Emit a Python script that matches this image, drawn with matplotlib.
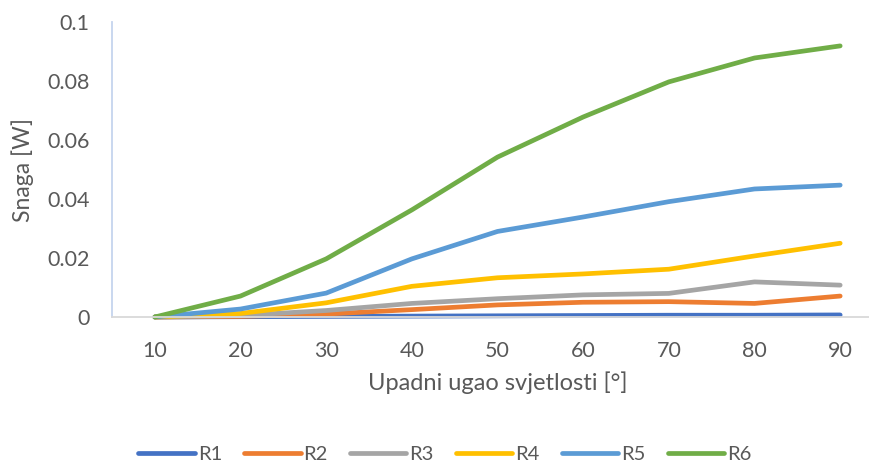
import matplotlib.pyplot as plt
import numpy as np

plt.rcParams['font.family'] = ['Lato', 'DejaVu Sans']

# angle of incident light [deg]
angles = [10, 20, 30, 40, 50, 60, 70, 80, 90]

# power [W] for each resistor
R1 = [0.0, 0.0001, 0.0002, 0.0003, 0.0004, 0.0005, 0.0006, 0.0006, 0.0007]
R2 = [0.0, 0.0002, 0.0010, 0.0025, 0.0041, 0.0050, 0.0052, 0.0046, 0.0071]
R3 = [0.0, 0.0005, 0.0022, 0.0046, 0.0062, 0.0075, 0.0080, 0.0119, 0.0108]
R4 = [0.0, 0.0012, 0.0048, 0.0104, 0.0133, 0.0146, 0.0162, 0.0207, 0.0250]
R5 = [0.0, 0.0027, 0.0081, 0.0197, 0.0290, 0.0339, 0.0391, 0.0434, 0.0447]
R6 = [0.0, 0.0071, 0.0197, 0.0363, 0.0542, 0.0678, 0.0797, 0.0878, 0.0919]

series = [R1, R2, R3, R4, R5, R6]
names = ['R1', 'R2', 'R3', 'R4', 'R5', 'R6']
colors = ['#4472C4', '#ED7D31', '#A5A5A5', '#FFC000', '#5B9BD5', '#70AD47']

txt = '#595959'

fig = plt.figure(figsize=(8.7, 4.65), dpi=100)
ax = fig.add_axes([112/870, 148/465, (883-112)/870, (317-22)/465])

for vals, name, c in zip(series, names, colors):
    ax.plot(angles, vals, color=c, lw=3.4, label=name,
            solid_capstyle='round', solid_joinstyle='round', clip_on=False)

ax.set_xlim(5, 95)
ax.set_ylim(0, 0.1)
ax.set_xticks(angles)
ax.set_yticks([0, 0.02, 0.04, 0.06, 0.08, 0.1])
ax.set_yticklabels(['0', '0.02', '0.04', '0.06', '0.08', '0.1'])

ax.spines['top'].set_visible(False)
ax.spines['right'].set_visible(False)
ax.spines['bottom'].set_color('#d9d9d9')
ax.spines['bottom'].set_linewidth(1.3)
ax.spines['left'].set_color('#c5d4ee')
ax.spines['left'].set_linewidth(1.3)
ax.tick_params(length=0, labelsize=15.5, colors=txt)
ax.tick_params(axis='x', pad=17)
ax.tick_params(axis='y', pad=16)

ax.set_xlabel('Upadni ugao svjetlosti [°]', fontsize=17, color=txt, labelpad=8)
ax.set_ylabel('Snaga [W]', fontsize=16.5, color=txt)
ax.yaxis.set_label_coords(-78/771, 0.5)

fig.legend(loc='center', bbox_to_anchor=(445/870, 1 - 454/465), ncol=6,
           frameon=False, fontsize=14.5, handlelength=2.8, handletextpad=0.15,
           columnspacing=1.1, labelcolor=txt)

fig.savefig('out.png', dpi=100)
